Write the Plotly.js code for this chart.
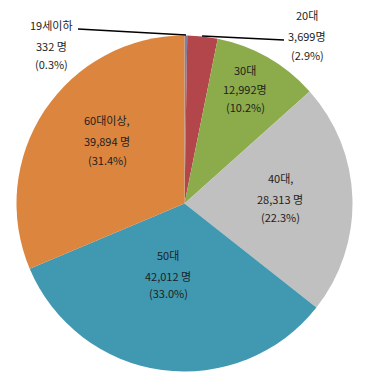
<!DOCTYPE html>
<html>
<head>
<meta charset="utf-8">
<script src="https://cdn.plot.ly/plotly-3.0.1.min.js"></script>
<style>html,body{margin:0;padding:0;background:#fff;}#chart{width:375px;height:387px;}</style>
</head>
<body>
<div id="chart"></div>
<script>
const categories = ["19세이하", "20대", "30대", "40대", "50대", "60대이상"];
const values = [332, 3699, 12992, 28313, 42012, 39894];
const percents = ["0.3%", "2.9%", "10.2%", "22.3%", "33.0%", "31.4%"];
const nameLines = ["19세이하", "20대", "30대", "40대,", "50대", "60대이상,"];
const countLines = ["332 명", "3,699명", "12,992명", "28,313 명", "42,012 명", "39,894 명"];
const colors = ["#7e80a4", "#b3464a", "#8cac4c", "#c0c0c0", "#4198b1", "#dc853e"];

const W = 375, H = 387;
// label line centres (px) for each category: [x, y1, y2, y3]
const labelPos = [
  [51, 25, 46, 64],
  [307, 15, 36, 55],
  [245, 70, 89, 107],
  [280, 178, 199, 217],
  [168, 255, 276, 293],
  [107, 120, 141, 160]
];
const fnt = {family: "'Noto Sans CJK KR', 'Noto Sans', sans-serif", size: 11, color: "#1e1e1e"};
const annotations = [];
categories.forEach((c, i) => {
  const p = labelPos[i];
  const lines = [nameLines[i], countLines[i], "(" + percents[i] + ")"];
  lines.forEach((t, k) => {
    annotations.push({
      xref: "paper", yref: "paper",
      x: p[0] / W, y: 1 - p[k + 1] / H,
      xanchor: "center", yanchor: "middle",
      text: t, showarrow: false, font: fnt
    });
  });
});

const cx = 184.5, cy = 203.5, r = 168;
const shapes = [
  {type: "line", xref: "paper", yref: "paper", x0: 78 / W, y0: 1 - 29 / H, x1: 186 / W, y1: 1 - 35 / H, line: {color: "#000", width: 1.5}},
  {type: "line", xref: "paper", yref: "paper", x0: 202 / W, y0: 1 - 36 / H, x1: 284 / W, y1: 1 - 40 / H, line: {color: "#000", width: 1.5}}
];

const data = [{
  type: "pie",
  labels: categories,
  values: values,
  sort: false,
  direction: "clockwise",
  rotation: 0,
  marker: {colors: colors, line: {width: 0}},
  textinfo: "none",
  hoverinfo: "none",
  showlegend: false,
  domain: {x: [(cx - r) / W, (cx + r) / W], y: [1 - (cy + r) / H, 1 - (cy - r) / H]}
}];

const layout = {
  width: W, height: H,
  margin: {l: 0, r: 0, t: 0, b: 0},
  paper_bgcolor: "#fff",
  showlegend: false,
  annotations: annotations,
  shapes: shapes
};
Plotly.newPlot("chart", data, layout, {displayModeBar: false, staticPlot: true});
</script>
</body>
</html>
